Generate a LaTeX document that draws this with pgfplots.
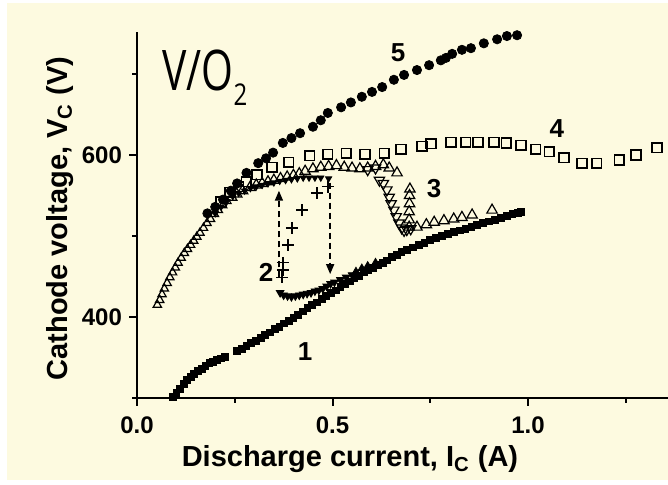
\documentclass[border=0pt]{standalone}
\usepackage{fontspec}
\setmainfont{Liberation Sans}
\newfontfamily\vofont{Open Sans}
\usepackage{graphicx}
\usepackage{pgfplots}
\pgfplotsset{compat=1.18}
\usetikzlibrary{arrows.meta}
\definecolor{bg}{RGB}{253,250,224}
\begin{document}
\begin{tikzpicture}
\useasboundingbox (0,0) rectangle (334pt,242.5pt);
\fill[white] (0,0) rectangle (334pt,242.5pt);
\fill[bg] (3.5pt,2.5pt) rectangle (334pt,241pt);
\begin{axis}[
  at={(68.5pt,43.5pt)}, anchor=south west,
  scale only axis, width=265.5pt, height=183pt,
  xmin=0, xmax=1.358, ymin=300, ymax=752,
  axis lines=left, axis line style={-, line width=1pt},
  clip=false,
  xtick={0,0.5,1}, xticklabels={0.0,0.5,1.0},
  minor xtick={0.25,0.75,1.25},
  ytick={400,600}, yticklabels={400,600},
  minor ytick={300,500,700},
  tick align=outside,
  major tick length=4pt, minor tick length=2.5pt,
  every tick/.style={black, line width=1pt},
  /pgf/number format/assume math mode=true,
  ticklabel style={font=\fontsize{12}{12}\selectfont\bfseries},
  xticklabel style={yshift=-2pt},
  xlabel={Discharge current, I\textsubscript{C} (A)},
  ylabel={Cathode voltage, V\textsubscript{C} (V)},
  label style={font=\fontsize{14.5}{14.5}\selectfont\bfseries},
  xlabel style={at={(axis description cs:0.401,-0.188)}, anchor=base},
  ylabel style={at={(axis description cs:-0.145,0.49)}, anchor=center},
]
% series 2: filled down triangles, upper branch
\addplot[only marks, mark=triangle*, mark size=1.8pt, black, mark options={rotate=180}] coordinates {
(0.20,528) (0.215,536) (0.23,543) (0.245,549) (0.26,553) (0.275,556) (0.29,559)
(0.305,561) (0.32,563) (0.335,565) (0.35,566) (0.365,568) (0.38,569) (0.395,570)
(0.41,571) (0.425,572) (0.44,572) (0.455,572) (0.47,572) (0.49,571)
};
% series 4: open squares
\addplot[only marks, mark=square, mark size=2.4pt, mark options={line width=0.8pt, fill=bg}] coordinates {
(0.215,542) (0.238,554) (0.26,561) (0.28,567) (0.307,576) (0.345,585)
(0.388,591) (0.442,599) (0.488,601) (0.535,602) (0.583,601) (0.632,602) (0.675,607)
(0.729,611) (0.752,614) (0.803,616) (0.841,616) (0.872,616) (0.913,616) (0.944,615)
(0.982,612) (1.02,607) (1.054,604) (1.092,597) (1.138,590) (1.176,590) (1.233,594)
(1.276,600) (1.33,609)
};
% series 5: filled circles
\addplot[only marks, mark=*, mark size=2.3pt, black] coordinates {
(0.18,528) (0.20,536) (0.22,545) (0.24,556) (0.256,565) (0.28,578) (0.31,590)
(0.33,596) (0.348,603) (0.373,615) (0.395,621)
(0.417,627) (0.45,635) (0.47,643) (0.488,652) (0.522,659) (0.547,665) (0.575,672)
(0.601,678) (0.627,684) (0.657,693) (0.683,699) (0.716,705) (0.747,711) (0.777,717)
(0.79,720) (0.806,725) (0.831,730) (0.854,732) (0.887,738) (0.921,743) (0.946,747)
(0.972,748)
};
% series 3: open up triangles, lower branch (dense)
\addplot[only marks, mark=triangle, mark size=2.4pt, mark options={line width=0.6pt, fill=bg}] coordinates {
(0.052,415) (0.058,421) (0.064,428) (0.070,435) (0.077,442) (0.084,449) (0.091,455)
(0.098,461) (0.105,467) (0.113,473) (0.121,479) (0.129,484) (0.137,489) (0.145,494)
(0.153,499) (0.161,504) (0.170,510) (0.179,516) (0.188,521) (0.198,527) (0.208,532)
(0.219,538) (0.230,543)
};
% series 3: open up triangles
\addplot[only marks, mark=triangle, mark size=3pt, mark options={line width=0.6pt, fill=bg}] coordinates {
(0.242,548) (0.255,552) (0.270,556) (0.289,560) (0.305,563) (0.320,565) (0.335,567)
(0.350,569) (0.367,571) (0.384,573) (0.40,575) (0.415,577)
(0.43,580) (0.45,583) (0.47,585) (0.49,586) (0.51,587) (0.53,585) (0.55,584)
(0.57,583) (0.59,584) (0.61,586) (0.63,588) (0.645,584) (0.665,578)
(0.696,511) (0.696,520) (0.696,530) (0.697,540) (0.697,550) (0.698,558)
(0.716,511) (0.74,514) (0.76,517) (0.785,519) (0.81,521) (0.831,523) (0.857,526) (0.908,532)
};
% series 3: open down triangles
\addplot[only marks, mark=triangle, mark size=3pt, mark options={line width=0.6pt, fill=bg, rotate=180}] coordinates {
(0.59,582) (0.61,584) (0.62,569) (0.63,565) (0.639,557) (0.645,548) (0.65,540)
(0.657,532) (0.663,524) (0.67,516) (0.677,510) (0.683,507) (0.69,508) (0.70,509)
};
% series 1: filled squares
\addplot[only marks, mark=square*, mark size=1.7pt, black] coordinates {
(0.092,301) (0.101,306) (0.110,311) (0.119,317) (0.128,322) (0.137,326) (0.146,330)
(0.155,333) (0.165,336) (0.175,340) (0.185,343) (0.195,345) (0.205,347) (0.215,349)
(0.225,351)
(0.256,358) (0.268,361) (0.280,364) (0.292,368) (0.304,371) (0.316,374) (0.328,378)
(0.340,381) (0.352,385) (0.364,388) (0.376,392) (0.388,395) (0.400,399) (0.412,403)
(0.424,407) (0.436,411) (0.448,415) (0.460,418) (0.472,422) (0.484,426) (0.496,430)
(0.508,433) (0.520,437) (0.532,441) (0.544,444) (0.556,448) (0.568,451) (0.580,455)
(0.592,458) (0.604,461) (0.616,464) (0.628,467) (0.640,470) (0.652,474) (0.664,477)
(0.676,480) (0.690,483) (0.705,486) (0.720,489) (0.735,492) (0.750,495) (0.765,498)
(0.780,500) (0.795,503) (0.810,505) (0.825,507) (0.840,509) (0.855,511) (0.870,514)
(0.885,516) (0.900,518) (0.915,520) (0.930,522) (0.945,525) (0.960,527) (0.975,529) (0.982,530)
};
% series 2: filled down triangles, lower branch
\addplot[only marks, mark=triangle*, mark size=2.2pt, black, mark options={rotate=180}] coordinates {
(0.366,430) (0.375,427) (0.385,426) (0.395,425) (0.405,426) (0.415,427) (0.425,428)
(0.435,429) (0.445,430) (0.455,432) (0.465,433) (0.475,435) (0.485,438) (0.495,441)
(0.505,443) (0.52,446) (0.535,449) (0.55,452)
};
\addplot[only marks, mark=triangle*, mark size=2.2pt, black] coordinates {
(0.56,456) (0.575,460) (0.59,463) (0.61,467)
};
% series 2: crosses
\addplot[only marks, mark=+, mark size=3pt, mark options={line width=0.7pt}, black] coordinates {
(0.371,449) (0.373,458) (0.373,467) (0.386,489) (0.396,510) (0.422,532) (0.46,553) (0.488,561)
};
% dashed arrows
\addplot[black, dash pattern=on 3pt off 2pt, line width=0.8pt, -{Triangle[length=5pt,width=4pt]}] coordinates {(0.363,449) (0.363,556)};
\addplot[black, dash pattern=on 3pt off 2pt, line width=0.8pt, -{Triangle[length=5pt,width=4pt]}] coordinates {(0.494,566) (0.494,453)};
% labels
\node[font=\fontsize{13}{13}\selectfont\bfseries] at (axis cs:0.668,727) {5};
\node[font=\fontsize{13}{13}\selectfont\bfseries] at (axis cs:1.074,633) {4};
\node[font=\fontsize{13}{13}\selectfont\bfseries] at (axis cs:0.76,559) {3};
\node[font=\fontsize{13}{13}\selectfont\bfseries] at (axis cs:0.330,455) {2};
\node[font=\fontsize{13}{13}\selectfont\bfseries] at (axis cs:0.43,357) {1};
\node[anchor=base west, inner sep=0pt] at (axis cs:0.064,680)
  {\scalebox{0.73}[1]{\vofont\fontsize{28}{28}\selectfont V/O}\raisebox{-7.5pt}{\scalebox{0.8}[1]{\vofont\fontsize{15}{15}\selectfont 2}}};
\end{axis}
\end{tikzpicture}
\end{document}
